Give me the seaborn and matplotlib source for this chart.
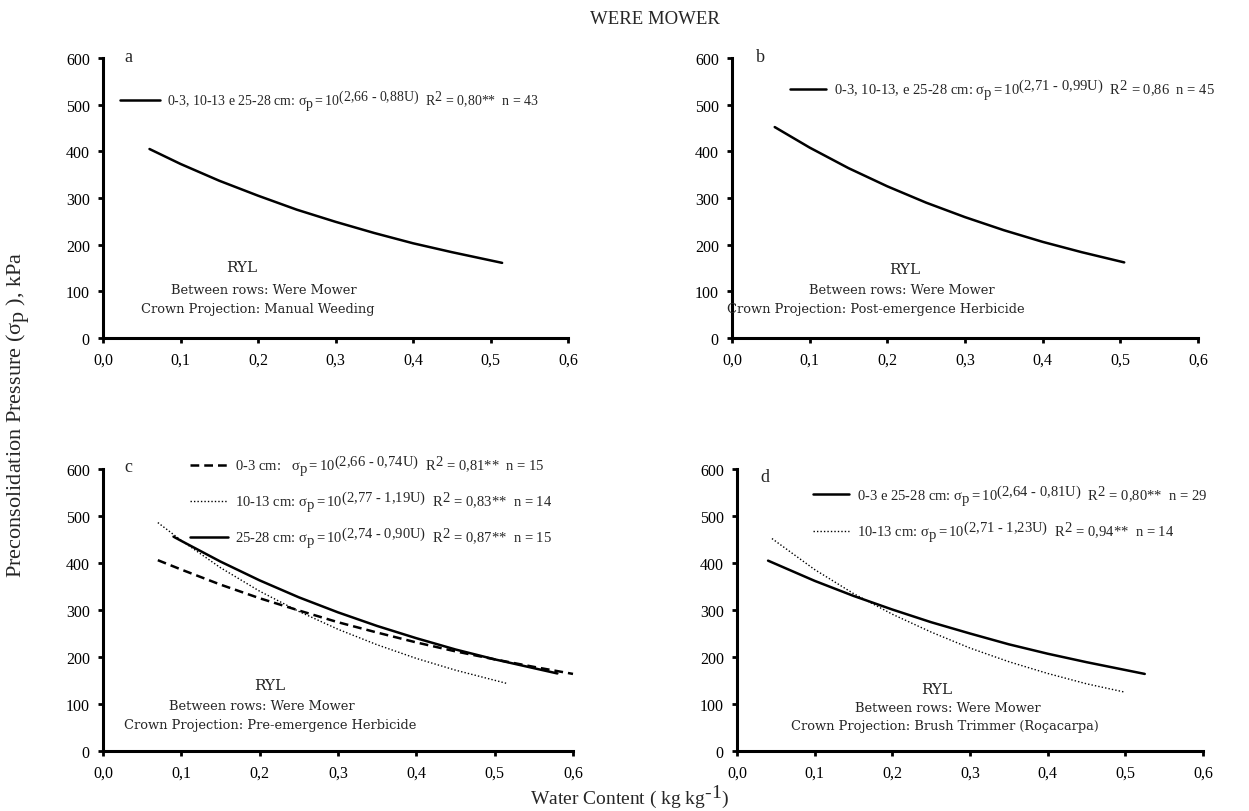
import matplotlib
matplotlib.use("Agg")
import matplotlib.pyplot as plt
import matplotlib._mathtext as _mt
import seaborn as sns
import pandas as pd

sns.set_style("ticks")
plt.rcParams['font.family'] = ['Liberation Serif', 'DejaVu Serif']
plt.rcParams['mathtext.fontset'] = 'custom'
plt.rcParams['mathtext.rm'] = 'Liberation Serif'
plt.rcParams['mathtext.it'] = 'Liberation Serif:italic'
plt.rcParams['mathtext.bf'] = 'Liberation Serif:bold'
# exponents in the reference are printed at (almost) full size
_mt.SHRINK_FACTOR = 1.0

# ---- data (water content U, kg/kg ; sigma_p, kPa) ----
a_u = [0.06, 0.10, 0.15, 0.20, 0.25, 0.30, 0.35, 0.40, 0.45, 0.515]
a_s = [405, 373, 337, 305, 275, 249, 225, 203, 184, 161]

b_u = [0.055, 0.10, 0.15, 0.20, 0.25, 0.30, 0.35, 0.40, 0.45, 0.505]
b_s = [452, 408, 364, 325, 290, 259, 231, 206, 184, 162]

c1_u = [0.07, 0.10, 0.15, 0.20, 0.25, 0.30, 0.35, 0.40, 0.45, 0.50, 0.55, 0.60]
c1_s = [406, 386, 354, 325, 299, 274, 252, 231, 212, 195, 179, 164]
c2_u = [0.07, 0.10, 0.15, 0.20, 0.25, 0.30, 0.35, 0.40, 0.45, 0.515]
c2_s = [486, 448, 390, 340, 297, 259, 226, 197, 172, 144]
c3_u = [0.09, 0.10, 0.15, 0.20, 0.25, 0.30, 0.35, 0.40, 0.45, 0.50, 0.58]
c3_s = [456, 447, 403, 363, 327, 295, 266, 240, 216, 195, 165]

d1_u = [0.04, 0.10, 0.15, 0.20, 0.25, 0.30, 0.35, 0.40, 0.45, 0.525]
d1_s = [405, 362, 330, 301, 274, 250, 227, 207, 189, 164]
d2_u = [0.045, 0.10, 0.15, 0.20, 0.25, 0.30, 0.35, 0.40, 0.45, 0.50]
d2_s = [452, 386, 335, 291, 253, 219, 190, 165, 143, 125]

x_ticks = [0.0, 0.1, 0.2, 0.3, 0.4, 0.5, 0.6]
x_tick_labels = ["0,0", "0,1", "0,2", "0,3", "0,4", "0,5", "0,6"]
y_ticks = [0, 100, 200, 300, 400, 500, 600]

SIG = r"\mathrm{\sigma}_{\mathrm{p}}"
lab_a = (r"0-3, 10-13 e 25-28 cm: $" + SIG + r" = 10^{(2{,}66\ \text{-}\ 0{,}88\mathrm{U})}$"
         r"  R$^{2}$ = 0,80**  n = 43")
lab_b = (r"0-3, 10-13, e 25-28 cm: $" + SIG + r" = 10^{(2{,}71\ \text{-}\ 0{,}99\mathrm{U})}$"
         r"  R$^{2}$ = 0,86  n = 45")
lab_c1 = (r"0-3 cm:   $" + SIG + r" = 10^{(2{,}66\ \text{-}\ 0{,}74\mathrm{U})}$"
          r"  R$^{2}$ = 0,81**  n = 15")
lab_c2 = (r"10-13 cm: $" + SIG + r" = 10^{(2{,}77\ \text{-}\ 1{,}19\mathrm{U})}$"
          r"  R$^{2}$ = 0,83**  n = 14")
lab_c3 = (r"25-28 cm: $" + SIG + r" = 10^{(2{,}74\ \text{-}\ 0{,}90\mathrm{U})}$"
          r"  R$^{2}$ = 0,87**  n = 15")
lab_d1 = (r"0-3 e 25-28 cm: $" + SIG + r" = 10^{(2{,}64\ \text{-}\ 0{,}81\mathrm{U})}$"
          r"  R$^{2}$ = 0,80**  n = 29")
lab_d2 = (r"10-13 cm: $" + SIG + r" = 10^{(2{,}71\ \text{-}\ 1{,}23\mathrm{U})}$"
          r"  R$^{2}$ = 0,94**  n = 14")

W, H = 1249, 812
fig = plt.figure(figsize=(W / 100, H / 100), dpi=100)


def px_axes(left, right, bottom, top):
    return fig.add_axes([left / W, 1 - bottom / H, (right - left) / W, (bottom - top) / H])


ax_a = px_axes(103, 568, 339, 59)
ax_b = px_axes(732, 1198, 339, 59)
ax_c = px_axes(103, 573, 752, 470)
ax_d = px_axes(737, 1203, 752, 470)

solid = dict(color="black", lw=1.8, linestyle="-")
dashed = dict(color="black", lw=1.8, linestyle=(0, (3.5, 2)))
dotted = dict(color="black", lw=1.0, linestyle=(0, (1, 1.5)))


def curve(ax, u, s, label, style):
    df = pd.DataFrame({"U": u, "sp": s})
    sns.lineplot(data=df, x="U", y="sp", ax=ax, sort=False, estimator=None,
                 label=label, **style)


curve(ax_a, a_u, a_s, lab_a, solid)
curve(ax_b, b_u, b_s, lab_b, solid)
curve(ax_c, c1_u, c1_s, lab_c1, dashed)
curve(ax_c, c2_u, c2_s, lab_c2, dotted)
curve(ax_c, c3_u, c3_s, lab_c3, solid)
curve(ax_d, d1_u, d1_s, lab_d1, solid)
curve(ax_d, d2_u, d2_s, lab_d2, dotted)

for ax in (ax_a, ax_b, ax_c, ax_d):
    ax.set_xlim(0, 0.6)
    ax.set_ylim(0, 600)
    ax.set_xticks(x_ticks)
    ax.set_xticklabels(x_tick_labels)
    ax.set_yticks(y_ticks)
    ax.set_xlabel("")
    ax.set_ylabel("")
    ax.set_facecolor("white")
    for sp in ("top", "right"):
        ax.spines[sp].set_visible(False)
    for sp in ("left", "bottom"):
        ax.spines[sp].set_linewidth(2.2)
        ax.spines[sp].set_color("black")
    ax.tick_params(direction="out", length=3.5, width=2, colors="black",
                   labelsize=11.5, pad=6)
    for ln in ax.get_lines():
        ln.set_clip_on(False)

legend_cfg = [
    (ax_a, (0.037, 0.895), 10, 2.9, 1.0),
    (ax_b, (0.124, 0.935), 10.5, 2.5, 1.0),
    (ax_c, (0.185, 1.06), 10.5, 2.6, 0.75),
    (ax_d, (0.163, 0.955), 10.5, 2.5, 0.8),
]
for ax, anchor, fs, hl, ls in legend_cfg:
    ax.legend(loc="upper left", bbox_to_anchor=anchor, frameon=False, fontsize=fs,
              handlelength=hl, handletextpad=0.5, borderaxespad=0, borderpad=0,
              labelspacing=ls)

# panel letters
for ax, letter, (x, y) in [(ax_a, "a", (128, 57)), (ax_b, "b", (760, 57)),
                           (ax_c, "c", (128, 468)), (ax_d, "d", (765, 478))]:
    fig.text(x / W, 1 - y / H, letter, fontsize=13, ha="center", va="center")

# panel annotations
ann_font = dict(family="DejaVu Serif", fontsize=9.4, ha="center", va="center")
notes = [
    ((242, 268), "RYL", (264, 291), "Between rows: Were Mower", (258, 310),
     "Crown Projection: Manual Weeding"),
    ((905, 270), "RYL", (902, 291), "Between rows: Were Mower", (876, 310),
     "Crown Projection: Post-emergence Herbicide"),
    ((270, 686), "RYL", (262, 707), "Between rows: Were Mower", (270, 725),
     "Crown Projection: Pre-emergence Herbicide"),
    ((937, 690), "RYL", (948, 709), "Between rows: Were Mower", (945, 727),
     "Crown Projection: Brush Trimmer (Roçacarpa)"),
]
for p1, t1, p2, t2, p3, t3 in notes:
    fig.text(p1[0] / W, 1 - p1[1] / H, t1, family="DejaVu Serif", fontsize=11,
             ha="center", va="center")
    fig.text(p2[0] / W, 1 - p2[1] / H, t2, **ann_font)
    fig.text(p3[0] / W, 1 - p3[1] / H, t3, **ann_font)

fig.text(655 / W, 1 - 20 / H, "WERE MOWER", fontsize=13.5, ha="center", va="center")
fig.text(18 / W, 1 - 415 / H, r"Preconsolidation Pressure ($\mathrm{\sigma}_{\mathrm{p}}$ ), kPa",
         fontsize=16, rotation=90, ha="center", va="center")
fig.text(630 / W, 1 - 797 / H, r"Water Content ( kg kg$^{\text{-}1}$)", fontsize=14,
         ha="center", va="center")

fig.savefig("out.png", dpi=100, facecolor="white")
